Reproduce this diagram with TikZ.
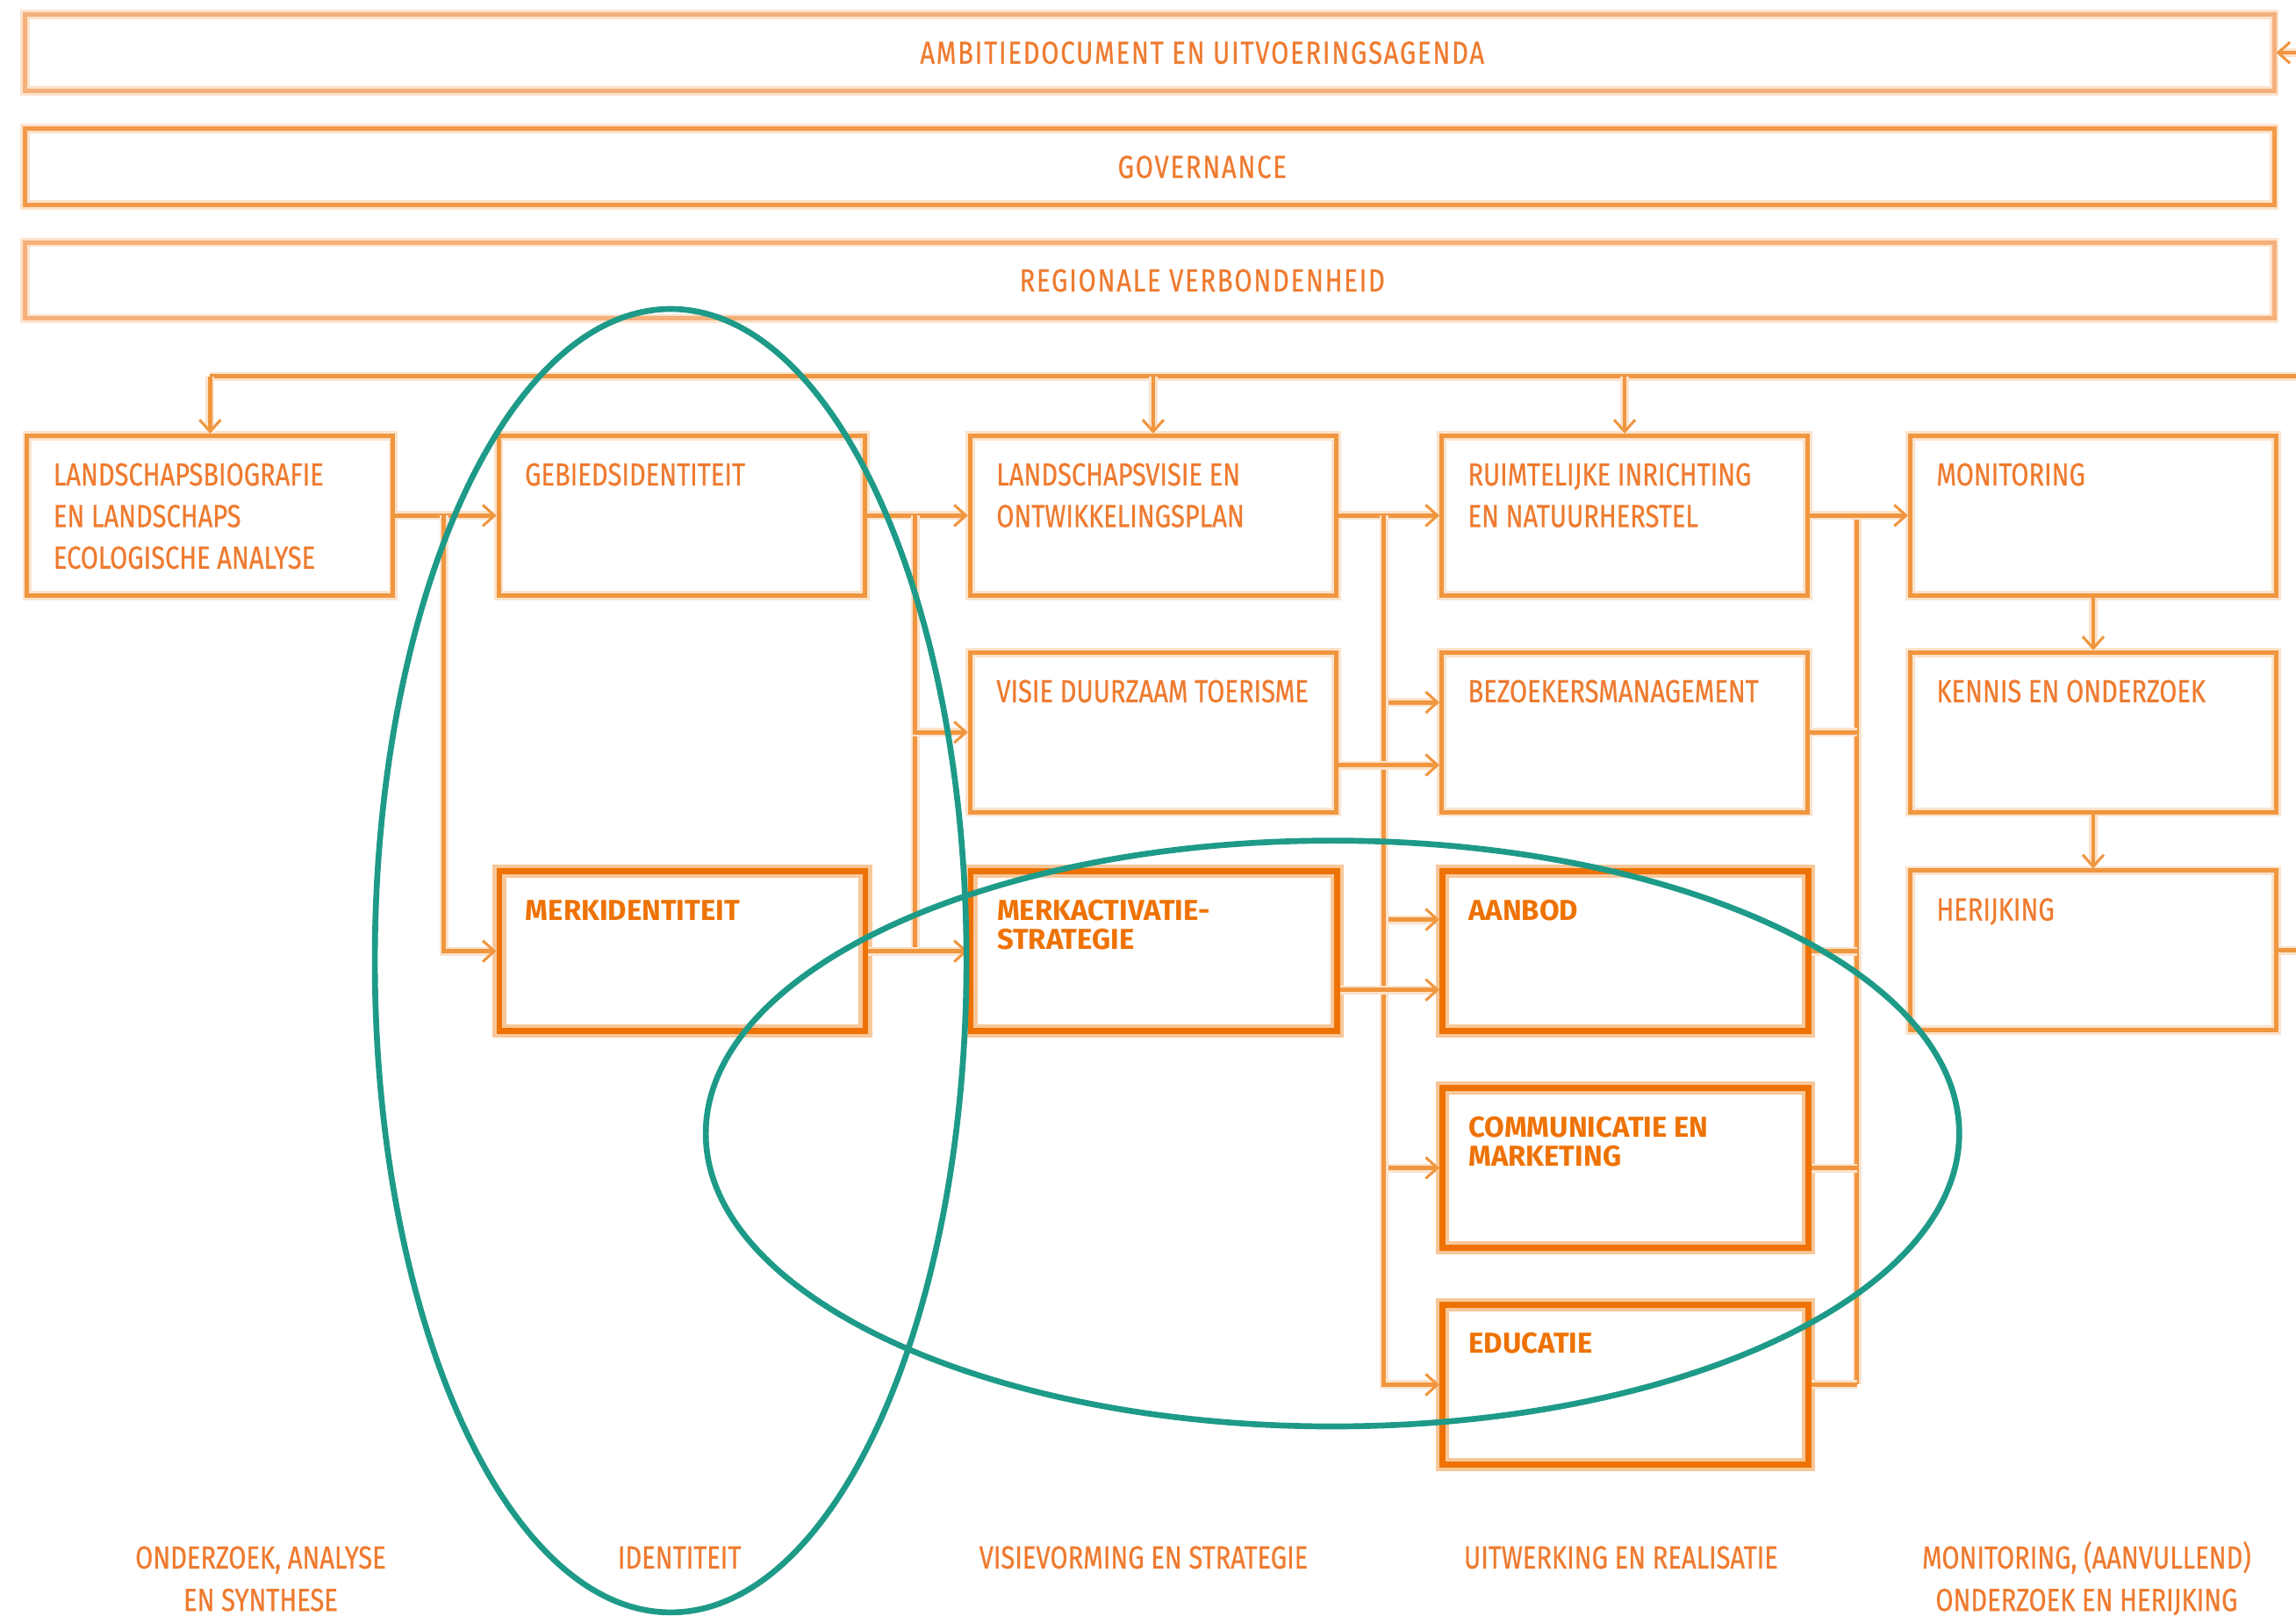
\documentclass[tikz,border=0pt]{standalone}
\usepackage{fontspec}
\usetikzlibrary{arrows.meta}

% condensed faces for the labels
\newfontfamily\regf{Fira Sans}[FakeStretch=0.80,FakeBold=0.6]
\newfontfamily\bldf{Fira Sans}[FakeStretch=1.0]
\newfontfamily\barf{Fira Sans}[FakeStretch=0.80,FakeBold=0.6,LetterSpace=5]

\definecolor{orline}{HTML}{F0963F}
\definecolor{orhalo}{HTML}{FCE3CC}
\definecolor{ordark}{HTML}{EE7203}
\definecolor{orpale}{HTML}{F8C799}
\definecolor{ortext}{HTML}{EE7B30}
\definecolor{orbar}{HTML}{F5B07A}
\definecolor{orbartwo}{HTML}{F29A48}
\definecolor{ringteal}{HTML}{1E9A88}

% text placed in the upper left corner of a box
\newcommand\intxt[2]{\parbox[c][27.25mm][t]{62.5mm}{\raggedright\leftskip=4.5mm\parindent=0pt\rule{0pt}{#1}#2}}

\tikzset{
  rbox/.style={draw=orline, line width=0.75mm, anchor=north west, inner sep=0pt,
    minimum width=62.5mm, minimum height=27.25mm, text=ortext,
    preaction={draw=orhalo, line width=1.6mm},
    font=\regf\fontsize{15.5pt}{20.2pt}\selectfont},
  bbox/.style={draw=ordark, line width=1.0mm, anchor=north west, inner sep=0pt,
    minimum width=62.5mm, minimum height=27.25mm, text=ordark,
    preaction={draw=orpale, line width=2.3mm},
    font=\bldf\bfseries\fontsize{14pt}{14.4pt}\selectfont},
  bar/.style={draw=orbar, line width=0.75mm, inner sep=0pt,
    minimum width=384mm, minimum height=13mm, text=ortext,
    preaction={draw=orhalo, line width=1.6mm},
    font=\barf\fontsize{15.5pt}{18pt}\selectfont},
  plain/.style={draw=orline, line width=0.7mm, preaction={draw=orhalo, line width=1.5mm}},
  conn/.style={plain, -{Straight Barb[length=2mm,width=3.6mm,line width=0.45mm]}},
  foot/.style={text=ortext, align=center, anchor=base,
    font=\regf\fontsize{15.5pt}{20.6pt}\selectfont},
  ring/.style={draw=ringteal, line width=1mm},
}

\begin{document}
\begin{tikzpicture}[x=0.25mm, y=-0.25mm]
\useasboundingbox (0,0) rectangle (1568,1103);

% reference lines for the buses and the right border
\coordinate (topbus) at (0,257);
\coordinate (busA) at (303,0);
\coordinate (busB) at (625,0);
\coordinate (busC) at (945,0);
\coordinate (busD) at (1268,0);
\coordinate (rim) at (1568,0);

% full-width bands
\node[bar, draw=orbar] (bar1) at (785,36) {\hspace*{18mm}AMBITIEDOCUMENT EN UITVOERINGSAGENDA};
\node[bar, draw=orbartwo] (bar2) at (785,114) {\hspace*{18mm}GOVERNANCE};
\node[bar, draw=orbar] (bar3) at (785,191.5) {\hspace*{18mm}REGIONALE VERBONDENHEID};

% column 1
\node[rbox] (bio) at (17,296) {\intxt{8.5mm}{LANDSCHAPSBIOGRAFIE\\EN LANDSCHAPS\\ECOLOGISCHE ANALYSE}};
% column 2
\node[rbox] (gebied) at (339,296) {\intxt{8.5mm}{GEBIEDSIDENTITEIT}};
\node[bbox] (merkid) at (339,593) {\intxt{8.3mm}{MERKIDENTITEIT}};
% column 3
\node[rbox] (landvisie) at (661,296) {\intxt{8.5mm}{LANDSCHAPSVISIE EN\\ONTWIKKELINGSPLAN}};
\node[rbox] (toerisme) at (661,444) {\intxt{8.5mm}{VISIE DUURZAAM TOERISME}};
\node[bbox] (merkact) at (661,593) {\intxt{8.3mm}{MERKACTIVATIE-\\STRATEGIE}};
% column 4
\node[rbox] (ruimte) at (983,296) {\intxt{8.5mm}{RUIMTELIJKE INRICHTING\\EN NATUURHERSTEL}};
\node[rbox] (bezoek) at (983,444) {\intxt{8.5mm}{BEZOEKERSMANAGEMENT}};
\node[bbox] (aanbod) at (983,593) {\intxt{8.3mm}{AANBOD}};
\node[bbox] (comm) at (983,741) {\intxt{8.3mm}{COMMUNICATIE EN\\MARKETING}};
\node[bbox] (educ) at (983,889) {\intxt{8.3mm}{EDUCATIE}};
% column 5
\node[rbox] (monit) at (1303,296) {\intxt{8.5mm}{MONITORING}};
\node[rbox] (kennis) at (1303,444) {\intxt{8.5mm}{KENNIS EN ONDERZOEK}};
\node[rbox] (herijk) at (1303,593) {\intxt{8.5mm}{HERIJKING}};

% feed from the top bus
\draw[plain] (bio.north |- topbus) -- (topbus -| rim);
\draw[conn] (bio.north |- topbus) -- (bio.north);
\draw[conn] (landvisie.north |- topbus) -- (landvisie.north);
\draw[conn] (ruimte.north |- topbus) -- (ruimte.north);
\draw[conn] (bar1.east -| rim) -- (bar1.east);

% column 1 -> column 2
\draw[conn] (bio.east) -- (gebied.west);
\draw[conn] (bio.east -| busA) |- (merkid.west);

% column 2 -> column 3
\draw[plain] (gebied.east -| busB) -- (merkid.east -| busB);
\draw[conn] (gebied.east) -- (landvisie.west);
\draw[conn] (gebied.east -| busB) |- (toerisme.west);
\draw[conn] (merkid.east) -- (merkact.west);

% column 3 -> column 4
\draw[conn] (landvisie.east) -- (ruimte.west);
\draw[conn] (landvisie.east -| busC) |- ([yshift=5.1mm]bezoek.west);
\draw[conn] (landvisie.east -| busC) |- ([yshift=5.4mm]aanbod.west);
\draw[conn] (landvisie.east -| busC) |- (comm.west);
\draw[conn] (landvisie.east -| busC) |- (educ.west);
\draw[conn] ([yshift=-5.6mm]toerisme.east) -- ([yshift=-5.6mm]bezoek.west);
\draw[conn] ([yshift=-6.6mm]merkact.east) -- ([yshift=-6.6mm]aanbod.west);

% column 4 -> column 5
\draw[plain] (ruimte.east -| busD) -- (educ.east -| busD);
\draw[plain] (bezoek.east) -- (bezoek.east -| busD);
\draw[plain] (aanbod.east) -- (aanbod.east -| busD);
\draw[plain] (comm.east) -- (comm.east -| busD);
\draw[plain] (educ.east) -- (educ.east -| busD);
\draw[conn] (ruimte.east) -- (monit.west);

% column 5
\draw[conn] (monit.south) -- (kennis.north);
\draw[conn] (kennis.south) -- (herijk.north);
\draw[plain] (herijk.east) -- (herijk.east -| rim);

% phase captions (two-line captions sit on their last baseline)
\node[foot] (f1) at (178,1100) {ONDERZOEK, ANALYSE\\EN SYNTHESE};
\node[foot] (f2) at (464,1071) {IDENTITEIT};
\node[foot] (f3) at (781,1071) {VISIEVORMING EN STRATEGIE};
\node[foot] (f4) at (1107,1071) {UITWERKING EN REALISATIE};
\node[foot] (f5) at (1425,1100) {MONITORING, (AANVULLEND)\\ONDERZOEK EN HERIJKING};

% highlighted groups
\draw[ring] (458,656) ellipse [x radius=50.5mm, y radius=111.25mm];
\draw[ring] (910,774) ellipse [x radius=107mm, y radius=50mm];
\end{tikzpicture}
\end{document}
